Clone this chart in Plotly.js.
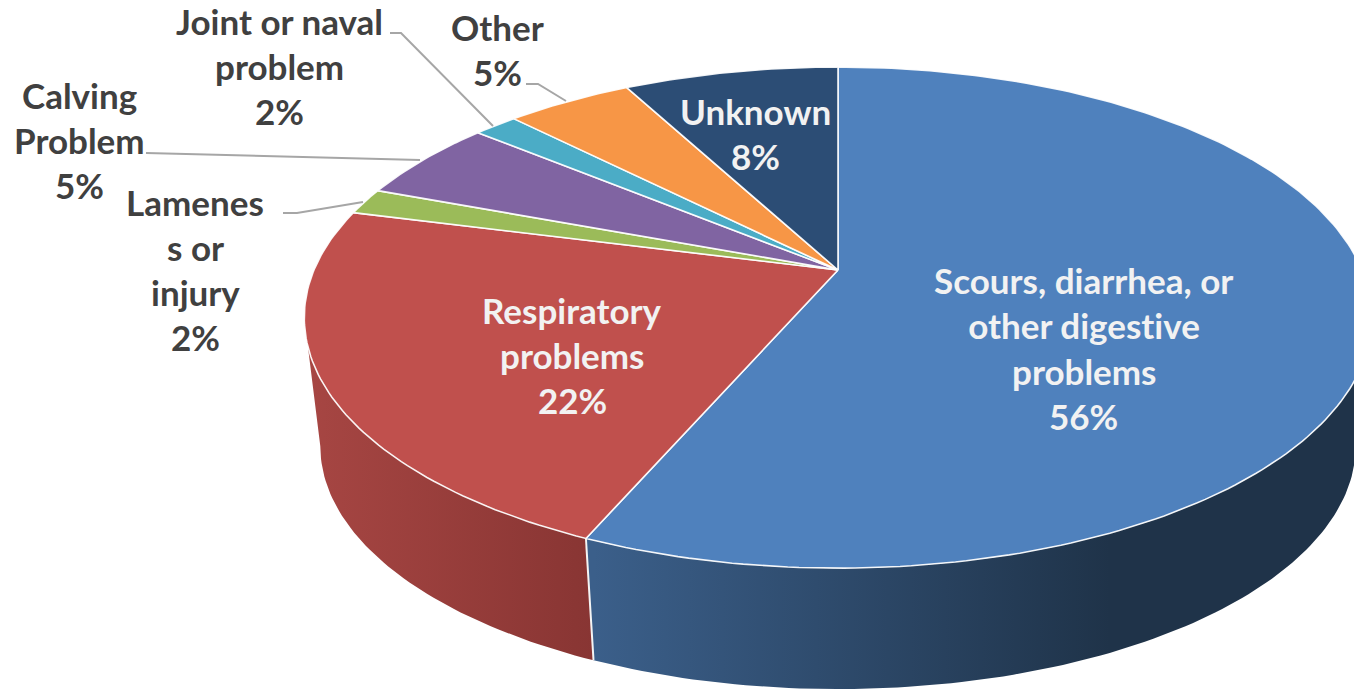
<!DOCTYPE html>
<html>
<head>
<meta charset="utf-8">
<script src="https://cdn.plot.ly/plotly-3.0.1.min.js"></script>
<style>
html,body{margin:0;padding:0;background:#fff;overflow:hidden}
#chart text{font-variant-ligatures:none !important}
</style>
</head>
<body>
<div id="chart" style="width:1354px;height:689px"></div>
<script>
// Data, clockwise from 12 o'clock
const categories = ["Scours, diarrhea, or other digestive problems", "Respiratory problems", "Lameness or injury", "Calving Problem", "Joint or naval problem", "Other", "Unknown"];
const shares = [56.5, 22.5, 1.7, 5.3, 1.6, 4.6, 7.8];
const shareLabels = ["56%", "22%", "2%", "5%", "2%", "5%", "8%"];
const sliceColors = ["#4F81BD", "#C0504D", "#9BBB59", "#8064A2", "#4BACC6", "#F79646", "#2C4D75"];

// Label text as wrapped in the picture
const labelLines = [
  ["Scours, diarrhea, or", "other digestive", "problems"],
  ["Respiratory", "problems"],
  ["Lamenes", "s or", "injury"],
  ["Calving", "Problem"],
  ["Joint or naval", "problem"],
  ["Other"],
  ["Unknown"]
];

// Layout of the drawing (pixels on the page-sized axes)
const labelAnchor = [[1083.5, 280, 45.3], [572, 309.5, 45], [195, 202, 45], [79, 95, 45], [279, 21, 45], [497, 26.5, 45], [755.5, 111, 45]];
const labelColor = ["#F2F2F2", "#F2F2F2", "#404040", "#404040", "#404040", "#404040", "#F2F2F2"];
const leaderX = [null, null, [283, 297, 363], [146, 420], [390, 401, 493], [526, 538, 566], null];
const leaderY = [null, null, [213, 213, 202], [153, 160], [33, 33, 126], [84, 84, 101], null];
const wallStyle = [
  {start: 594, stop: 1110, colorscale: [[0, "#3B5F8A"], [1, "#1F3349"]]},
  {start: 305, stop: 594, colorscale: [[0, "#A74643"], [1, "#883533"]]}
];
const apex = {x: 838, y: 270};
const persp = {A: 524, B: 241.5, k: 0.19, rimCentreY: 317, wallCentreY: 445.5, wallScale: 0.97, tangentLag: 6.5};

// Project a pie angle (degrees clockwise from top) onto the tilted disc
function rim(deg) {
  const t = deg * Math.PI / 180, u = Math.sin(t), v = Math.cos(t), w = 1 + persp.k * v;
  return [apex.x + persp.A * u / w, apex.y - persp.B * v / w];
}
function base(p) {
  return [apex.x + persp.wallScale * (p[0] - apex.x), persp.wallCentreY + persp.wallScale * (p[1] - persp.rimCentreY)];
}
function arc(a0, a1) {
  const n = Math.max(2, Math.ceil(Math.abs(a1 - a0))), pts = [];
  for (let i = 0; i <= n; i++) pts.push(rim(a0 + (a1 - a0) * i / n));
  return pts;
}

const total = shares.reduce((a, b) => a + b, 0);
const edges = [0];
shares.forEach(s => edges.push(edges[edges.length - 1] + s / total * 360));

const traces = [];
const common = {type: "scatter", mode: "lines", hoverinfo: "skip", showlegend: false};

// Side walls: rim arc, then the base arc, joined by the silhouette edge
const sideRight = Math.acos(-persp.k) * 180 / Math.PI, sideLeft = 360 - sideRight;
const wallAngles = [
  {rim: [sideRight + persp.tangentLag, edges[1]], base: [edges[1], sideRight]},
  {rim: [edges[1], sideLeft - persp.tangentLag], base: [sideLeft, edges[1]]}
];
wallStyle.forEach((g, i) => {
  const w = wallAngles[i];
  const poly = arc(w.rim[0], w.rim[1]).concat(arc(w.base[0], w.base[1]).map(base));
  poly.push(poly[0]);
  traces.push(Object.assign({}, common, {
    name: categories[i] + " wall",
    x: poly.map(p => p[0]), y: poly.map(p => p[1]),
    fill: "toself", line: {width: 0},
    fillgradient: {type: "horizontal", start: g.start, stop: g.stop, colorscale: g.colorscale}
  }));
});
// Seam between the two walls
const seamTop = rim(edges[1]), seamBot = base(seamTop);
traces.push(Object.assign({}, common, {
  name: "seam", x: [seamTop[0], seamBot[0]], y: [seamTop[1], seamBot[1]],
  line: {color: "#F4F4F4", width: 2}
}));

// Top surface
categories.forEach((c, i) => {
  const pts = [[apex.x, apex.y]].concat(arc(edges[i], edges[i + 1]));
  pts.push([apex.x, apex.y]);
  traces.push(Object.assign({}, common, {
    name: c,
    x: pts.map(p => p[0]), y: pts.map(p => p[1]),
    fill: "toself", fillcolor: sliceColors[i],
    line: {color: "rgba(255,255,255,0.92)", width: 1.6}
  }));
});

// Leader lines
leaderX.forEach((lx, i) => {
  if (!lx) return;
  traces.push(Object.assign({}, common, {
    name: categories[i] + " leader", x: lx, y: leaderY[i],
    line: {color: "#A6A6A6", width: 2}
  }));
});

// Labels
const annotations = [];
categories.forEach((c, i) => {
  const lines = labelLines[i].concat([shareLabels[i]]);
  const a = labelAnchor[i];
  lines.forEach((t, j) => annotations.push({
    x: a[0], y: a[1] + j * a[2], xref: "x", yref: "y",
    text: t, showarrow: false, xanchor: "center", yanchor: "middle",
    font: {family: "Lato, 'Open Sans', sans-serif", size: 35, color: labelColor[i], weight: 700}
  }));
});

Plotly.newPlot("chart", traces, {
  width: 1354, height: 689,
  margin: {l: 0, r: 0, t: 0, b: 0},
  paper_bgcolor: "#fff", plot_bgcolor: "#fff",
  showlegend: false,
  xaxis: {range: [0, 1354], visible: false, fixedrange: true},
  yaxis: {range: [689, 0], visible: false, fixedrange: true},
  annotations: annotations
}, {displayModeBar: false, staticPlot: true});
</script>
</body>
</html>
